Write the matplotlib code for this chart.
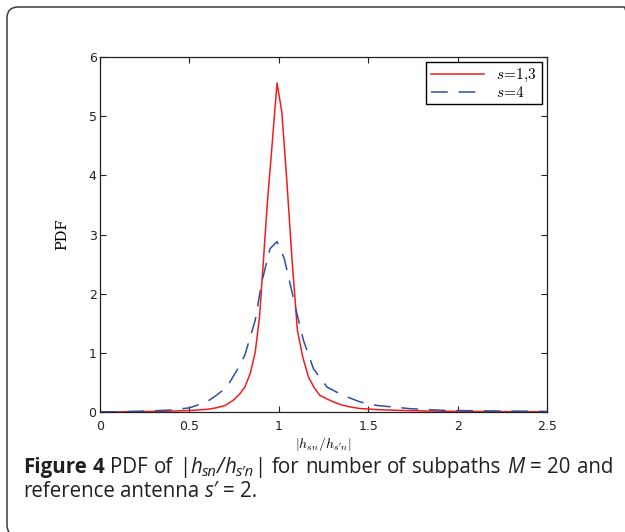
import matplotlib
matplotlib.use("Agg")
import matplotlib.pyplot as plt
from matplotlib.patches import FancyBboxPatch
from matplotlib.transforms import IdentityTransform
from matplotlib.ticker import FixedLocator

# ---- data ----
red_x = [0, 0.1, 0.2, 0.3, 0.4, 0.5, 0.6, 0.65, 0.7, 0.746, 0.78, 0.81, 0.84, 0.868,
         0.892, 0.914, 0.937, 0.957, 0.99, 1.017, 1.045, 1.073, 1.104, 1.134, 1.166,
         1.2, 1.23, 1.27, 1.306, 1.35, 1.40, 1.45, 1.55, 1.7, 1.83, 2.0, 2.2, 2.5]
red_y = [0.0, 0.002, 0.005, 0.01, 0.015, 0.025, 0.045, 0.07, 0.11, 0.2, 0.3, 0.42,
         0.65, 1.01, 1.6, 2.56, 3.58, 4.31, 5.56, 5.07, 3.9, 2.62, 1.38, 0.93, 0.59,
         0.4, 0.28, 0.22, 0.17, 0.12, 0.085, 0.06, 0.04, 0.025, 0.017, 0.01, 0.007, 0.004]
blue_x = [0, 0.1, 0.2, 0.3, 0.4, 0.5, 0.597, 0.65, 0.709, 0.765, 0.81, 0.868, 0.905,
          0.951, 0.99, 1.03, 1.063, 1.097, 1.138, 1.194, 1.27, 1.36, 1.455, 1.55,
          1.735, 1.92, 2.2, 2.5]
blue_y = [0.0, 0.005, 0.012, 0.02, 0.035, 0.07, 0.17, 0.28, 0.42, 0.7, 0.96, 1.55,
          2.2, 2.76, 2.88, 2.6, 2.17, 1.72, 1.21, 0.73, 0.42, 0.28, 0.17, 0.11,
          0.056, 0.028, 0.017, 0.01]
series_labels = [r"$s\!=\!1{,}3$", r"$s\!=\!4$"]
x_ticks = [0, 0.5, 1, 1.5, 2, 2.5]
x_ticklabels = ["0", "0.5", "1", "1.5", "2", "2.5"]
y_ticks = [0, 1, 2, 3, 4, 5, 6]
y_ticklabels = ["0", "1", "2", "3", "4", "5", "6"]
x_label = r"$|h_{sn}/h_{s'n}|$"
y_label = "PDF"
# caption words: each word is a list of (text, style) runs
caption_line1 = [
    [("Figure", "b")], [("4", "b")], [("PDF", "n")], [("of", "n")],
    [("|", "n"), ("h", "i"), ("sn", "s"), ("/", "i"), ("h", "i"), ("s\u2032n", "s"), ("|", "n")],
    [("for", "n")], [("number", "n")], [("of", "n")], [("subpaths", "n")],
    [("M", "i")], [("=", "n")], [("20", "n")], [("and", "n")],
]
caption_line2 = [
    [("reference", "n")], [("antenna", "n")], [("s\u2032", "i")], [("=", "n")], [("2.", "n")],
]

W, H = 625, 532
fig = plt.figure(figsize=(W / 100, H / 100), dpi=100)
fig.patch.set_facecolor("white")

# rounded outer frame (pixel coordinates)
frame = FancyBboxPatch((7, -4), 628, 529, boxstyle="round,pad=0,rounding_size=11",
                       transform=IdentityTransform(), facecolor="none",
                       edgecolor="#3a3a3a", linewidth=1.1)
fig.add_artist(frame)

ax = fig.add_axes([100 / W, 1 - 412 / H, (547 - 100) / W, (412 - 57) / H])
ax.plot(red_x, red_y, color="#f21c1c", lw=1.1, label=series_labels[0])
ax.plot(blue_x, blue_y, color="#2f4fa6", lw=1.1, dashes=(11, 7), label=series_labels[1])

ax.set_xlim(0, 2.5)
ax.set_ylim(0, 6)
ax.xaxis.set_major_locator(FixedLocator(x_ticks))
ax.yaxis.set_major_locator(FixedLocator(y_ticks))
ax.set_xticklabels(x_ticklabels, family="DejaVu Sans", fontsize=9, color="#222222")
ax.set_yticklabels(y_ticklabels, family="DejaVu Sans", fontsize=9, color="#222222")
ax.tick_params(direction="in", top=True, right=True, length=4, width=0.8,
               color="#222222")
ax.tick_params(axis="x", pad=6)
ax.tick_params(axis="y", pad=2.5)
for sp in ax.spines.values():
    sp.set_linewidth(0.9)
    sp.set_color("#222222")

ax.set_xlabel(x_label, fontsize=10, math_fontfamily="cm", labelpad=1.5)
ax.set_ylabel(y_label, family="DejaVu Serif", fontsize=10.5, labelpad=14)

leg = ax.legend(loc="upper right", handlelength=3.5, handletextpad=0.8,
                borderaxespad=0.35, fancybox=False, framealpha=1, borderpad=0.3,
                labelspacing=0.05, prop={"size": 11, "math_fontfamily": "cm"})
leg.get_frame().set_edgecolor("black")
leg.get_frame().set_linewidth(1.0)

# ---- caption (drawn word by word, first line justified) ----
CAP_SIZE = 14.8
CAP_COLOR = "#231f20"
renderer = fig.canvas.get_renderer()


def run_props(style):
    p = dict(family="Open Sans", fontsize=CAP_SIZE, color=CAP_COLOR,
             transform=IdentityTransform(), va="baseline", ha="left")
    if style == "b":
        p["fontweight"] = "bold"
    elif style == "i":
        p["fontstyle"] = "italic"
    elif style == "s":
        p["fontstyle"] = "italic"
        p["fontsize"] = CAP_SIZE * 0.72
    return p


def measure(txt, style):
    t = fig.text(0, 0, txt, **run_props(style))
    w = t.get_window_extent(renderer).width
    t.remove()
    return w


def space_width():
    return measure("a a", "n") - measure("aa", "n")


def draw_line(words, y_base, x0, x1=None):
    widths = []
    for word in words:
        widths.append([measure(txt, st) for txt, st in word])
    total = sum(sum(w) for w in widths)
    sp = space_width()
    if x1 is not None and len(words) > 1:
        sp = max(sp * 0.6, (x1 - x0 - total) / (len(words) - 1))
    x = x0
    for word, ws in zip(words, widths):
        for (txt, st), w in zip(word, ws):
            dy = -CAP_SIZE * 1.389 * 0.17 if st == "s" else 0
            fig.text(x, y_base + dy, txt, **run_props(st))
            x += w
        x += sp


draw_line(caption_line1, H - 473, 23, 613)
draw_line(caption_line2, H - 497, 23)

fig.savefig("out.png", dpi=100)
